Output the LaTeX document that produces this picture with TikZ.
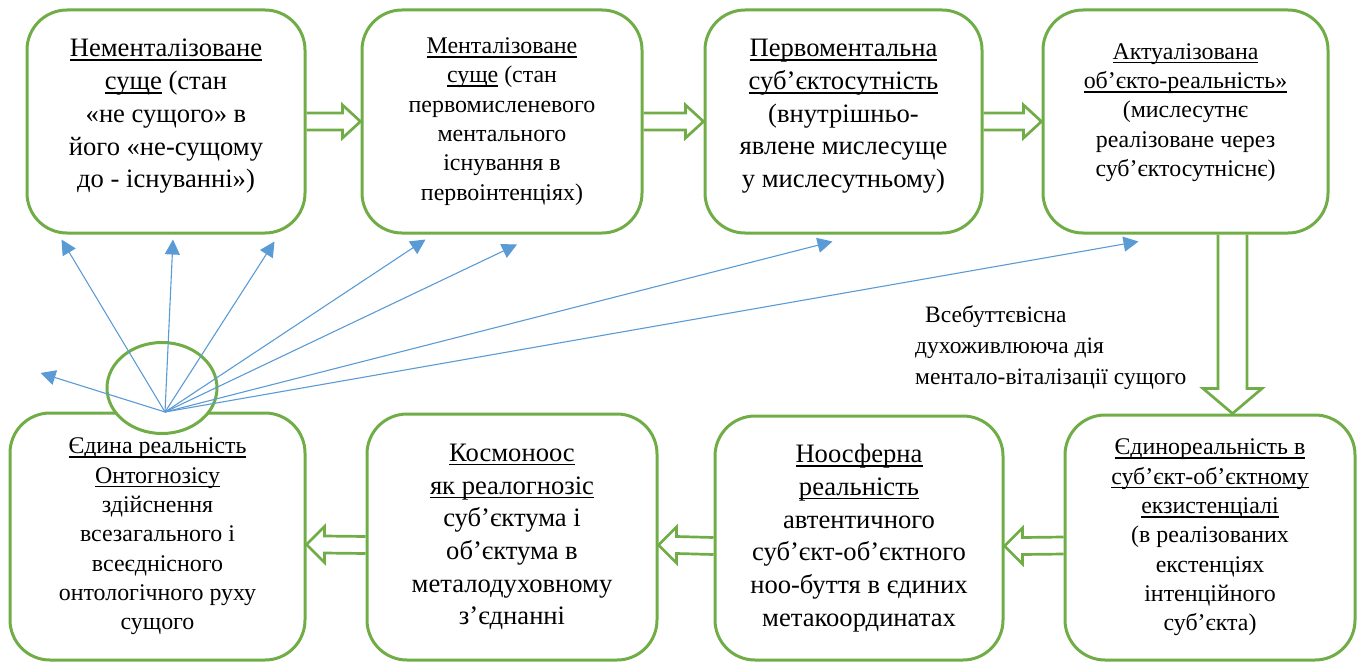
\documentclass[tikz,border=0pt]{standalone}
\usepackage{fontspec}
\setmainfont{Liberation Serif}
\usetikzlibrary{shapes.geometric,arrows.meta,calc}
\definecolor{grn}{HTML}{70AD47}
\definecolor{blu}{HTML}{5B9BD5}
\newcommand{\bigtxt}{\fontsize{26.6}{32.7}\selectfont}
\newcommand{\smalltxt}{\fontsize{23.9}{29.3}\selectfont}
\newsavebox{\ulbox}
\newcommand{\uln}[1]{\sbox{\ulbox}{#1}\rlap{\rule[-4pt]{\wd\ulbox}{1.5pt}}\usebox{\ulbox}}

\begin{document}
\begin{tikzpicture}[x=1pt,y=-1pt,
        box/.style={draw=grn, line width=3pt, rounded corners=40pt, align=center, fill=white},
        blockarr/.style={draw=grn, line width=2.7pt, line join=miter},
        ray/.style={blu, line width=1.1pt, -{Triangle[length=15pt,width=15pt]}}]
        \useasboundingbox (0,0) rectangle (1362,661);
        \node[box, minimum width=278pt, minimum height=223pt, text depth=16pt, font=\bigtxt] (b1) at (166,121.5)
            {\uln{Нементалізоване}\\ \uln{суще} (стан\\ «не сущого» в\\ його «не-сущому\\ до - існуванні»)};
        \node[box, minimum width=280pt, minimum height=223pt, font=\smalltxt] (b2) at (502,121.5)
            {\uln{Менталізоване}\\ \uln{суще} (стан\\ первомисленевого\\ ментального\\ існування в\\ первоінтенціях)};
        \node[box, minimum width=277pt, minimum height=223pt, text depth=16pt, font=\bigtxt] (b3) at (843.5,121.5)
            {\uln{Первоментальна}\\ \uln{суб’єктосутність}\\ (внутрішньо-\\ явлене мислесуще\\ у мислесутньому)};
        \node[box, minimum width=285pt, minimum height=223pt, text depth=23pt, font=\smalltxt] (b4) at (1185.5,121.5)
            {\uln{Актуалізована}\\ \uln{об’єкто-реальність»}\\ (мислесутнє\\ реалізоване через\\ суб’єктосутніснє)};
        \node[box, minimum width=295pt, minimum height=247pt, font=\smalltxt] (b5) at (157.5,536.5)
            {\uln{Єдина реальність}\\ \uln{Онтогнозісу}\\ здійснення\\ всезагального і\\ всеєднісного\\ онтологічного руху\\ сущого};
        \node[box, minimum width=290pt, minimum height=246pt, font=\bigtxt] (b6) at (512,537)
            {\uln{Космоноос}\\ \uln{як реалогнозіс}\\ суб’єктума і\\ об’єктума в\\ металодуховному\\ з’єднанні};
        \node[box, minimum width=288pt, minimum height=244pt, font=\bigtxt] (b7) at (859,538)
            {\uln{Ноосферна}\\ \uln{реальність}\\ автентичного\\ суб’єкт-об’єктного\\ ноо-буття в єдиних\\ метакоординатах};
        \node[box, minimum width=290pt, minimum height=245pt, font=\smalltxt] (b8) at (1210,537.5)
            {\uln{Єдинореальність в}\\ \uln{суб’єкт-об’єктному}\\ \uln{екзистенціалі}\\ (в реалізованих\\ екстенціях\\ інтенційного\\ суб’єкта)};
        \node[anchor=north west, align=left, inner sep=0pt, font=\fontsize{23.5}{31}\selectfont] (lbl) at (915,305)
            {\hspace*{10pt}Всебуттєвісна\\ духоживлююча дія\\ ментало-віталізації сущого};
        \foreach \a/\b in {b1/b2,b2/b3,b3/b4}
            \draw[blockarr] ($(\a.east)+(0,-8.5)$) -- ($(\b.west)+(-18,-8.5)$) -- ($(\b.west)+(-18,-16.5)$) -- (\b.west)
                -- ($(\b.west)+(-18,16.5)$) -- ($(\b.west)+(-18,8.5)$) -- ($(\a.east)+(0,8.5)$);
        \foreach \a/\b in {b8/b7,b7/b6,b6/b5}
            \draw[blockarr] ($(\a.west)+(0,-0.5)$) -- ($(\b.east)+(18,-0.5)$) -- ($(\b.east)+(18,-10)$) -- ($(\b.east)+(0,8)$)
                -- ($(\b.east)+(18,26)$) -- ($(\b.east)+(18,16.5)$) -- ($(\a.west)+(0,16.5)$);
        \draw[blockarr] ($(b4.south)+(32.5,0)$) -- ($(b8.north)+(8,-25)$) -- ($(b8.north)+(-7,-25)$) -- ($(b8.north)+(22.5,0)$)
            -- ($(b8.north)+(52,-25)$) -- ($(b8.north)+(37,-25)$) -- ($(b4.south)+(61.5,0)$);
        \node[ellipse, draw=grn, line width=3pt, fill=white, minimum width=110pt, minimum height=91pt] (ell) at (162,388) {};
        \coordinate (src) at (165,412);
        \coordinate (t1) at ($(b1.south west)+(36,5)$);
        \coordinate (t2) at ($(b1.south)+(7,5)$);
        \coordinate (t3) at ($(b1.south east)+(-32,7)$);
        \coordinate (t4) at ($(b2.south west)+(65,5)$);
        \coordinate (t5) at ($(b2.south)+(15,10)$);
        \coordinate (t6) at ($(b3.south)+(-11,7)$);
        \coordinate (t7) at ($(b4.south)+(-47,7)$);
        \coordinate (t8) at ($(ell.west)+(-65,-15)$);
        \foreach \i in {1,...,8}
            \draw[ray] (src) -- (t\i);
    \end{tikzpicture}
\end{document}
